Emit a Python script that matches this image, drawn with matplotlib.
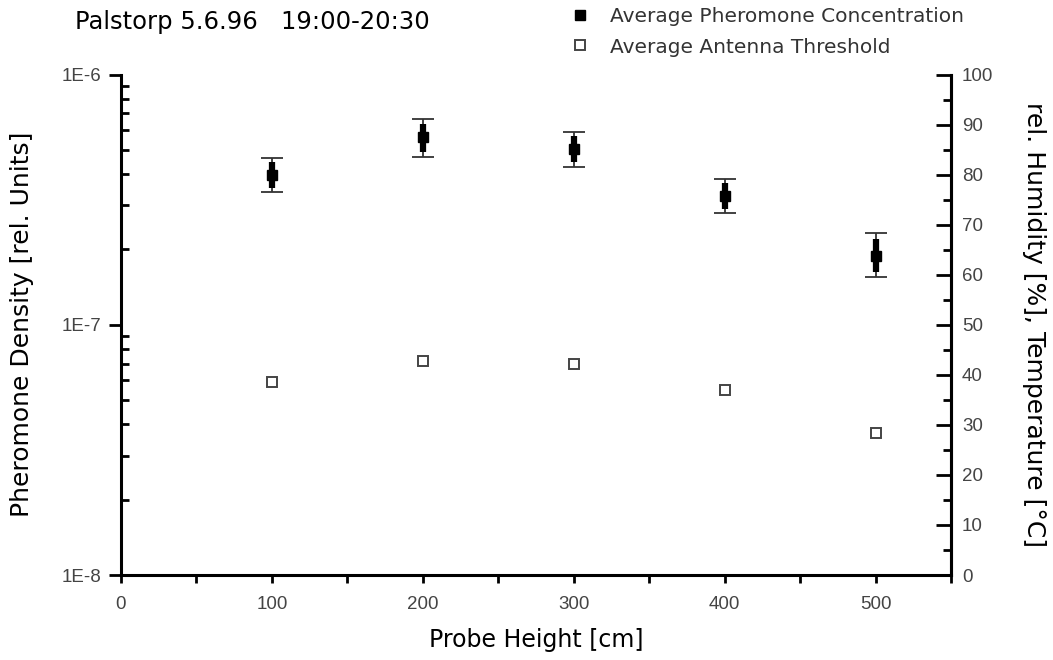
import matplotlib
matplotlib.use("Agg")
import matplotlib.pyplot as plt
import numpy as np
from matplotlib.ticker import FixedLocator, LogLocator, FuncFormatter, MultipleLocator, NullFormatter

plt.rcParams['font.family'] = ['Liberation Sans', 'DejaVu Sans']
WIDE = ['DejaVu Sans']

# Data
heights = [100, 200, 300, 400, 500]
pheromone = [3.95e-7, 5.61e-7, 5.05e-7, 3.27e-7, 1.88e-7]
pher_upper = [4.65e-7, 6.64e-7, 5.91e-7, 3.84e-7, 2.32e-7]
pher_lower = [3.39e-7, 4.68e-7, 4.27e-7, 2.79e-7, 1.55e-7]
threshold = [5.89e-8, 7.18e-8, 6.95e-8, 5.47e-8, 3.68e-8]

title = "Palstorp 5.6.96   19:00-20:30"
left_ticks = [1e-8, 1e-7, 1e-6]
left_ticklabels = ["1E-8", "1E-7", "1E-6"]

fig = plt.figure(figsize=(10.53, 6.60), dpi=100)
ax = fig.add_axes([121/1053, 1-575/660, (951-121)/1053, (575-74.5)/660])

x = np.array(heights, dtype=float)
y = np.array(pheromone)
up = np.array(pher_upper)
lo = np.array(pher_lower)
err = np.vstack([y - lo, up - y])
# inner thick segment: 75% of error range in log space
inner_up = 10 ** (np.log10(y) + 0.75 * (np.log10(up) - np.log10(y)))
inner_lo = 10 ** (np.log10(y) - 0.75 * (np.log10(y) - np.log10(lo)))
err_in = np.vstack([y - inner_lo, inner_up - y])

ax.errorbar(x, y, yerr=err, fmt='none', ecolor='#333333', elinewidth=1.3,
            capsize=8, capthick=1.3, zorder=3)
ax.errorbar(x, y, yerr=err_in, fmt='none', ecolor='black', elinewidth=4.5,
            capsize=0, zorder=4)
ax.plot(x, y, linestyle='none', marker='s', markersize=7.5, color='black',
        zorder=5, label='Average Pheromone Concentration')
ax.plot(x, threshold, linestyle='none', marker='s', markersize=7.5,
        markerfacecolor='white', markeredgecolor='#444444', markeredgewidth=1.4,
        zorder=5, label='Average Antenna Threshold')

ax.set_yscale('log')
ax.set_ylim(1e-8, 1e-6)
ax.set_xlim(0, 550)

ax.yaxis.set_major_locator(FixedLocator(left_ticks))
ax.yaxis.set_major_formatter(FuncFormatter(lambda v, p: left_ticklabels[left_ticks.index(v)] if v in left_ticks else ""))
ax.yaxis.set_minor_locator(LogLocator(base=10, subs=np.arange(2, 10)))
ax.yaxis.set_minor_formatter(NullFormatter())
ax.tick_params(axis='y', which='major', direction='out', length=9, width=2, labelsize=13.5,
               labelcolor='#444444', pad=5)
ax.tick_params(axis='y', which='minor', direction='in', length=6, width=2)

ax.xaxis.set_major_locator(MultipleLocator(100))
ax.xaxis.set_minor_locator(MultipleLocator(50))
ax.tick_params(axis='x', which='both', direction='out', length=6, width=2, labelsize=13.5,
               labelcolor='#444444', pad=9)

for s in ['left', 'bottom', 'right']:
    ax.spines[s].set_linewidth(2.2)
ax.spines['top'].set_visible(False)

ax2 = ax.twinx()
ax2.set_ylim(0, 100)
ax2.yaxis.set_major_locator(MultipleLocator(10))
ax2.yaxis.set_minor_locator(MultipleLocator(5))
ax2.tick_params(axis='y', which='major', direction='in', length=11, width=2, labelsize=13.5,
                labelcolor='#444444', pad=8)
ax2.tick_params(axis='y', which='minor', direction='in', length=6, width=2)
ax2.spines['top'].set_visible(False)
ax2.spines['right'].set_linewidth(2.2)
ax2.spines['left'].set_visible(False)
ax2.spines['bottom'].set_visible(False)

ax.set_xlabel("Probe Height [cm]", fontsize=17, labelpad=11, family=WIDE)
ax.set_ylabel("Pheromone Density [rel. Units]", fontsize=18, labelpad=20, family=WIDE)
ax2.set_ylabel("rel. Humidity [%], Temperature [°C]", fontsize=18, rotation=-90,
               labelpad=38, family=WIDE)

fig.text(75/1053, 1-22/660, title, fontsize=17.5, ha='left', va='center', family=WIDE)

handles, labels = ax.get_legend_handles_labels()
fig.legend(handles, labels, loc='center left', bbox_to_anchor=(560/1053, 1-32/660),
           frameon=False, prop={'family': WIDE, 'size': 14.5}, labelcolor='#333333',
           handletextpad=1.0, handlelength=1.0, labelspacing=0.55, borderpad=0)

fig.savefig("out.png", dpi=100)
